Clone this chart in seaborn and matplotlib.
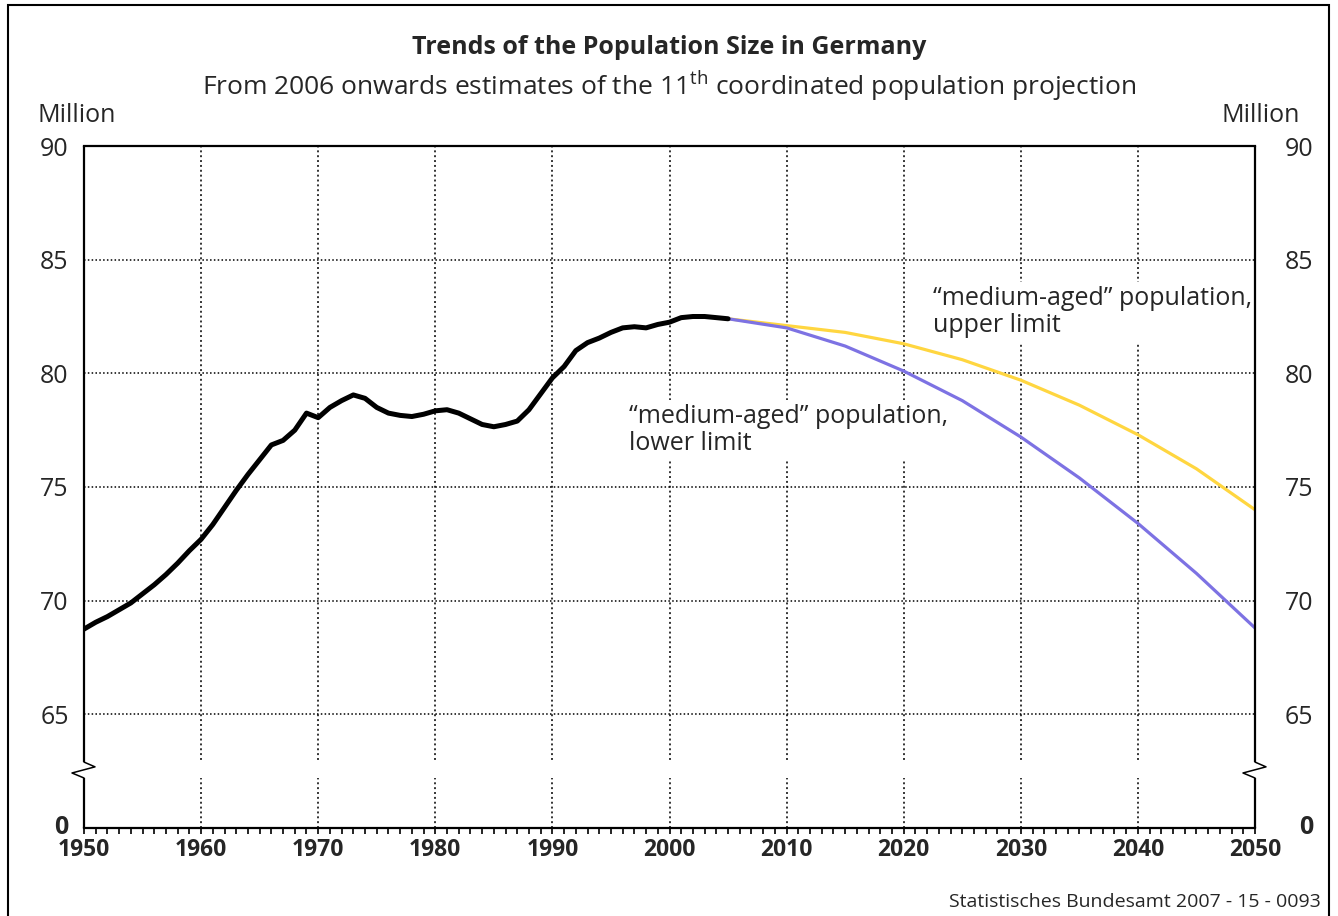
import matplotlib
matplotlib.use("Agg")
import matplotlib.pyplot as plt
import matplotlib.ticker as mticker
import matplotlib.transforms as mtransforms
from matplotlib.patches import Rectangle
import seaborn as sns

# ---------- Data (millions) ----------
hist_years = list(range(1950, 2006))
hist_pop = [
    68.75, 69.05, 69.3, 69.6, 69.9, 70.3, 70.7, 71.15, 71.65, 72.2,
    72.7, 73.35, 74.1, 74.85, 75.55, 76.2, 76.85, 77.05, 77.5, 78.25,
    78.05, 78.5, 78.8, 79.05, 78.9, 78.5, 78.25, 78.15, 78.1, 78.2,
    78.35, 78.4, 78.25, 78.0, 77.75, 77.65, 77.75, 77.9, 78.4, 79.1,
    79.8, 80.3, 81.0, 81.35, 81.55, 81.8, 82.0, 82.05, 82.0, 82.15,
    82.25, 82.45, 82.5, 82.5, 82.45, 82.4,
]

proj_years = [2005, 2010, 2015, 2020, 2025, 2030, 2035, 2040, 2045, 2050]
lower_pop = [82.4, 82.0, 81.2, 80.1, 78.8, 77.2, 75.4, 73.4, 71.2, 68.8]
upper_pop = [82.4, 82.1, 81.8, 81.3, 80.6, 79.7, 78.6, 77.3, 75.8, 74.0]

y_ticks = [60, 65, 70, 75, 80, 85, 90]
y_tick_labels = ["0", "65", "70", "75", "80", "85", "90"]
x_ticks = list(range(1950, 2051, 10))

title = "Trends of the Population Size in Germany"
subtitle = ("From 2006 onwards estimates of the 11$^{\\mathrm{th}}$ "
            "coordinated population projection")
label_upper = "\u201cmedium-aged\u201d population,\nupper limit"
label_lower = "\u201cmedium-aged\u201d population,\nlower limit"
source = "Statistisches Bundesamt 2007 - 15 - 0093"

BLACK = "#000000"
BLUE = "#7D72E3"
YELLOW = "#FFD640"

# ---------- Style ----------
sns.set_style("white")
plt.rcParams["font.family"] = ["Open Sans", "DejaVu Sans"]
plt.rcParams["mathtext.fontset"] = "custom"
plt.rcParams["mathtext.rm"] = "Open Sans"
plt.rcParams["mathtext.it"] = "Open Sans:italic"
plt.rcParams["mathtext.bf"] = "Open Sans:bold"

W, H = 1338, 916
fig = plt.figure(figsize=(W / 100, H / 100), dpi=100)
ax = fig.add_axes([84 / W, 1 - 828 / H, (1255 - 84) / W, (828 - 146) / H])

# ---------- Lines ----------
sns.lineplot(x=proj_years, y=upper_pop, ax=ax, color=YELLOW, lw=2.3, zorder=3)
sns.lineplot(x=proj_years, y=lower_pop, ax=ax, color=BLUE, lw=2.3, zorder=4)
sns.lineplot(x=hist_years, y=hist_pop, ax=ax, color=BLACK, lw=3.6, zorder=5)

# ---------- Axes ----------
ax.set_xlim(1950, 2050)
ax.set_ylim(60, 90)
ax.set_xlabel("")
ax.set_ylabel("")

ax.xaxis.set_major_locator(mticker.FixedLocator(x_ticks))
ax.xaxis.set_minor_locator(mticker.MultipleLocator(1))
ax.yaxis.set_major_locator(mticker.FixedLocator(y_ticks))
ax.yaxis.set_major_formatter(mticker.FixedFormatter(y_tick_labels))

ax.tick_params(axis="x", which="both", direction="out", length=4.5, width=1.2,
               color="black", bottom=True, pad=3, labelsize=16.5)
ax.tick_params(axis="y", which="both", length=0, left=False, right=False,
               labelleft=True, labelright=True, labelsize=18, pad=11)
for lab in ax.get_xticklabels():
    lab.set_fontweight("bold")
ticks = ax.yaxis.get_major_ticks()
for tick in ticks:
    tick.label2.set_horizontalalignment("right")
    tick.label2.set_x(1 + 43 / (1255 - 84))
ticks[0].label1.set_fontweight("bold")
ticks[0].label2.set_fontweight("bold")
lift = mtransforms.ScaledTranslation(0, 3 / 100, fig.dpi_scale_trans)
ticks[0].label1.set_transform(ticks[0].label1.get_transform() + lift)
ticks[0].label2.set_transform(ticks[0].label2.get_transform() + lift)

ax.set_axisbelow(True)
ax.grid(axis="y", which="major", linestyle=(0, (1, 1.5)), color="black", lw=1.1)
ax.grid(axis="x", which="major", linestyle=(0, (1, 1.5)), color="#333333", lw=1.4)
ax.grid(axis="x", which="minor", visible=False)

for side in ("top", "bottom"):
    ax.spines[side].set_color("black")
    ax.spines[side].set_linewidth(1.6)
ax.spines["left"].set_visible(False)
ax.spines["right"].set_visible(False)

# axis break band and broken side axes
break_lo, break_hi = 62.2, 62.9
ax.axhspan(break_lo, break_hi, color="white", lw=0, zorder=0.8)
trans = mtransforms.blended_transform_factory(ax.transAxes, ax.transData)
axw = 1255 - 84
for side in (0, 1):
    ax.plot([side, side], [60, break_lo], transform=trans, color="black",
            lw=1.6, clip_on=False, zorder=6, solid_capstyle="butt")
    ax.plot([side, side], [break_hi, 90], transform=trans, color="black",
            lw=1.6, clip_on=False, zorder=6, solid_capstyle="butt")
    ax.plot([side, side + 11 / axw, side - 12 / axw, side],
            [break_hi, 62.69, 62.42, break_lo], transform=trans,
            color="black", lw=1.1, clip_on=False, zorder=6)

# ---------- Annotations ----------
box = dict(facecolor="white", edgecolor="none", pad=3)
ax.text(2022.5, 83.85, label_upper, ha="left", va="top", fontsize=18,
        linespacing=1.12, bbox=box, zorder=2)
ax.text(1996.5, 78.65, label_lower, ha="left", va="top", fontsize=18,
        linespacing=1.12, bbox=box, zorder=2)

fig.text(0.5, 1 - 47 / H, title, ha="center", va="center",
         fontsize=18, fontweight="bold")
fig.text(0.5, 1 - 87 / H, subtitle, ha="center", va="center", fontsize=19)
fig.text(38 / W, 1 - 115 / H, "Million", ha="left", va="center", fontsize=18)
fig.text(1300 / W, 1 - 115 / H, "Million", ha="right", va="center", fontsize=18)
fig.text(1321 / W, 1 - 902 / H, source, ha="right", va="center", fontsize=14)

frame = Rectangle((8 / W, -0.05), (1329 - 8) / W, 1 - 5 / H + 0.05,
                  transform=fig.transFigure, fill=False, ec="black", lw=1.5)
fig.add_artist(frame)

fig.savefig("out.png", dpi=100)
